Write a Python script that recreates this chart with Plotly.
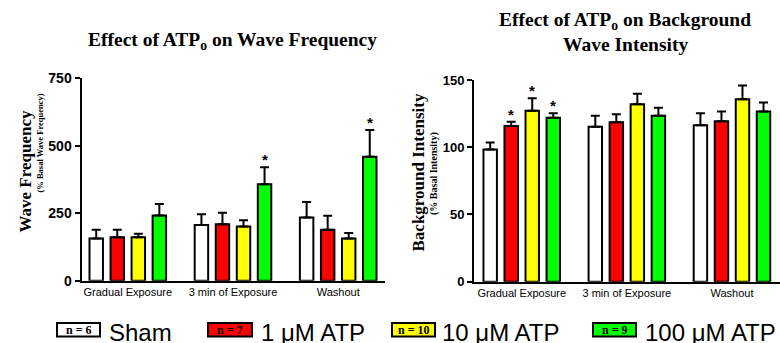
import plotly.graph_objects as go

# ---------------- data ----------------
categories = ["Gradual Exposure", "3 min of Exposure", "Washout"]
series_names = ["Sham", "1 μM ATP", "10 μM ATP", "100 μM ATP"]
series_n = [6, 7, 10, 9]
series_colors = ["#FFFFFF", "#FF0000", "#FFFF00", "#00FF00"]

# Wave frequency (% basal wave frequency)
freq_sham = [156, 206, 234]
freq_1uM = [161, 209, 189]
freq_10uM = [161, 201, 156]
freq_100uM = [242, 357, 459]
freq_sham_err = [33, 40, 58]
freq_1uM_err = [28, 43, 52]
freq_10uM_err = [13, 23, 21]
freq_100uM_err = [42, 63, 99]
freq_sig_sham = [False, False, False]
freq_sig_1uM = [False, False, False]
freq_sig_10uM = [False, False, False]
freq_sig_100uM = [False, True, True]

# Background intensity (% basal intensity)
bg_sham = [98.4, 115.3, 116.3]
bg_1uM = [115.8, 118.5, 119.3]
bg_10uM = [127.2, 131.9, 135.6]
bg_100uM = [122.0, 123.5, 126.5]
bg_sham_err = [5.2, 8.2, 8.9]
bg_1uM_err = [3.2, 6.0, 7.2]
bg_10uM_err = [9.2, 7.9, 10.4]
bg_100uM_err = [3.2, 5.9, 6.7]
bg_sig_sham = [False, False, False]
bg_sig_1uM = [True, False, False]
bg_sig_10uM = [True, False, False]
bg_sig_100uM = [True, False, False]

freq_tick_vals = [0, 250, 500, 750]
bg_tick_vals = [0, 50, 100, 150]

# ---------------- figure ----------------
W, H = 780, 343
def px(x):
    return x / W
def py(y):
    return 1 - y / H

BARGAP = 0.2
BARGROUPGAP = 0.36
n_series = 4
slot = (1 - BARGAP) / n_series

fig = go.Figure()

panels = [
    ("x", "y",
     [freq_sham, freq_1uM, freq_10uM, freq_100uM],
     [freq_sham_err, freq_1uM_err, freq_10uM_err, freq_100uM_err],
     [freq_sig_sham, freq_sig_1uM, freq_sig_10uM, freq_sig_100uM]),
    ("x2", "y2",
     [bg_sham, bg_1uM, bg_10uM, bg_100uM],
     [bg_sham_err, bg_1uM_err, bg_10uM_err, bg_100uM_err],
     [bg_sig_sham, bg_sig_1uM, bg_sig_10uM, bg_sig_100uM]),
]

annotations = []
for xa, ya, vals, errs, sigs in panels:
    for k in range(n_series):
        fig.add_trace(go.Bar(
            x=categories, y=vals[k], name=series_names[k],
            xaxis=xa, yaxis=ya,
            marker=dict(color=series_colors[k], line=dict(color="black", width=2)),
            error_y=dict(type="data", symmetric=False, array=errs[k],
                         arrayminus=[0] * len(errs[k]),
                         color="black", thickness=2, width=4.5),
            showlegend=False,
        ))
        for i, s in enumerate(sigs[k]):
            if s:
                annotations.append(dict(
                    x=i + (k - (n_series - 1) / 2) * slot,
                    y=vals[k][i] + errs[k][i],
                    xref=xa, yref=ya, text="*", showarrow=False,
                    yanchor="bottom", yshift=-3,
                    font=dict(family="Liberation Sans, Arial", size=15, color="black",
                              weight="bold"),
                ))

axis_common = dict(showline=True, linecolor="black", linewidth=2, showgrid=False,
                   zeroline=False, mirror=False, automargin=False)

fig.update_layout(
    width=W, height=H,
    margin=dict(l=0, r=0, t=0, b=0, autoexpand=False),
    paper_bgcolor="white", plot_bgcolor="white",
    barmode="group", bargap=BARGAP, bargroupgap=BARGROUPGAP,
    showlegend=False,
    xaxis=dict(domain=[px(81.5), px(385)], range=[-0.44, 2.445], anchor="y",
               type="category", ticks="",
               tickfont=dict(family="Liberation Sans, Arial", size=11, color="black"),
               **axis_common),
    yaxis=dict(domain=[py(280.7), py(78.3)], range=[0, 750], anchor="x",
               tickvals=freq_tick_vals, ticks="outside", ticklen=5, tickwidth=2,
               tickcolor="black",
               tickfont=dict(family="Liberation Sans, Arial", size=14, color="black",
                             weight="bold"),
               **axis_common),
    xaxis2=dict(domain=[px(474), 1.0], range=[-0.454, 2.457], anchor="y2",
                type="category", ticks="",
                tickfont=dict(family="Liberation Sans, Arial", size=11, color="black"),
                **axis_common),
    yaxis2=dict(domain=[py(281.7), py(80)], range=[0, 150], anchor="x2",
                tickvals=bg_tick_vals, ticks="outside", ticklen=5, tickwidth=2,
                tickcolor="black",
                tickfont=dict(family="Liberation Sans, Arial", size=13, color="black",
                              weight="bold"),
                **axis_common),
)

serif = "Liberation Serif, Times New Roman, serif"
sans = "Liberation Sans, Arial, sans-serif"

def ann(x, y, text, size, family=serif, bold=True, angle=0, xanchor="center",
        yanchor="middle"):
    annotations.append(dict(
        x=px(x), y=py(y), xref="paper", yref="paper", text=text, showarrow=False,
        textangle=angle, xanchor=xanchor, yanchor=yanchor,
        font=dict(family=family, size=size, color="black",
                  weight="bold" if bold else "normal"),
    ))

# titles
ann(232, 41, "Effect of ATP<sub>o</sub> on Wave Frequency", 19.5)
ann(625, 21, "Effect of ATP<sub>o</sub> on Background", 19.5)
ann(625, 45, "Wave Intensity", 19.5)

# y-axis titles
ann(25, 171.5, "Wave Frequency", 17, angle=-90)
ann(39, 143.5, "(% Basal Wave Frequency)", 8.5, angle=-90)
ann(417.5, 173, "Background Intensity", 17, angle=-90)
ann(434, 174, "(% Basal Intensity)", 10, angle=-90)

# legend (boxes with n inside, then label)
box_x = [(57, 100), (208, 252), (392, 435), (593, 636)]
label_x = [107, 259, 440, 643]
shapes = []
for k in range(n_series):
    x0, x1 = box_x[k]
    shapes.append(dict(type="rect", xref="paper", yref="paper",
                       x0=px(x0), x1=px(x1), y0=py(336.5), y1=py(323),
                       fillcolor=series_colors[k], line=dict(color="black", width=2)))
    ann((x0 + x1) / 2, 329.5, f"n = {series_n[k]}", 12)
    ann(label_x[k], 332, series_names[k], 24, family=sans, bold=False,
        xanchor="left")

fig.update_layout(annotations=annotations, shapes=shapes)

fig.write_html("out.html", config={"displayModeBar": False},
               post_script="document.body.style.margin='0';document.body.style.padding='0';")
